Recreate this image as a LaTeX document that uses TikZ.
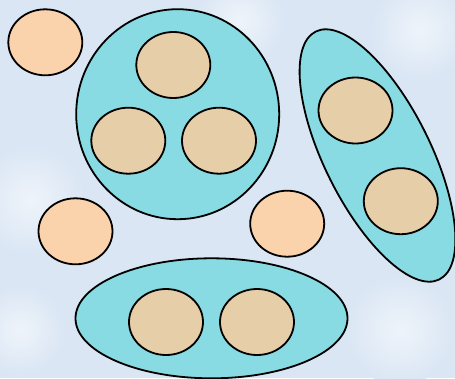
\documentclass[tikz,border=0pt]{standalone}
\usetikzlibrary{shapes.geometric}
\definecolor{bgblue}{HTML}{DAE6F4}
\definecolor{groupcyan}{HTML}{88DBE2}
\definecolor{innertan}{HTML}{E6CEA8}
\definecolor{outerpeach}{HTML}{FAD2AC}
\tikzset{
  blob/.style={ellipse, draw=black, line width=1.8pt, inner sep=0pt,
    minimum width=74pt, minimum height=66pt},
  inblob/.style={blob, fill=innertan},
  outblob/.style={blob, fill=outerpeach},
  group/.style={ellipse, draw=black, line width=1.8pt, inner sep=0pt, fill=groupcyan},
  softspot/.style={shading=radial, inner color=bgblue!45!white, outer color=bgblue}
}
\begin{document}
\begin{tikzpicture}[x=1pt,y=1pt]
\fill[bgblue] (0,0) rectangle (455,-378);
\useasboundingbox (0,0) rectangle (455,-378);
\begin{scope}
\clip (0,0) rectangle (455,-378);
\shade[softspot] (30,-200) circle (55);
\shade[softspot] (420,-30) circle (50);
\shade[softspot] (400,-330) circle (55);
\shade[softspot] (240,-20) circle (45);
\shade[softspot] (20,-330) circle (45);
% groups
\node[group, minimum width=203pt, minimum height=210pt] (bigcircle) at (177.7,-114.2) {};
\node[group, minimum width=272pt, minimum height=120pt] (bottomgroup) at (211.5,-318.3) {};
\node[group, minimum width=277pt, minimum height=106pt, rotate=-63.5] (diaggroup) at (377.5,-155.5) {};
% inner blobs
\node[inblob] (a1) at (173.3,-65) {};
\node[inblob] (a2) at (128.3,-140.7) {};
\node[inblob] (a3) at (219,-140.7) {};
\node[inblob] (b1) at (166,-322) {};
\node[inblob] (b2) at (257,-322) {};
\node[inblob] (c1) at (355.5,-110.5) {};
\node[inblob] (c2) at (400.8,-201.2) {};
% outer blobs
\node[outblob] (o1) at (45.3,-42.3) {};
\node[outblob] (o2) at (75.5,-231.3) {};
\node[outblob] (o3) at (287.2,-223.7) {};
\end{scope}
\end{tikzpicture}
\end{document}
